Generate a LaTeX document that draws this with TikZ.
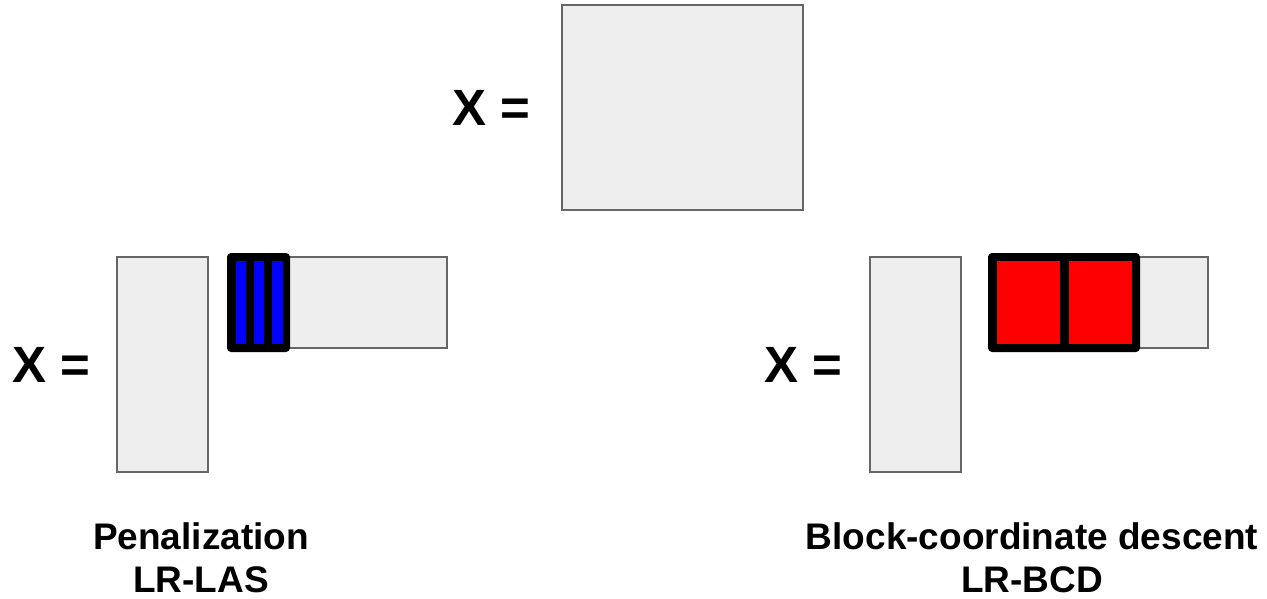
\documentclass[tikz,border=0pt]{standalone}
\usepackage{fontspec}
\setmainfont{Liberation Sans}
\definecolor{boxgray}{RGB}{238,238,238}
\definecolor{edgegray}{RGB}{102,102,102}
\definecolor{stripeblue}{RGB}{0,0,255}
\definecolor{blockred}{RGB}{255,0,0}
\tikzset{
  graybox/.style={fill=boxgray,draw=edgegray,line width=1.5pt},
  blackframe/.style={fill=black,rounded corners=4pt},
  bigeq/.style={anchor=base west,inner sep=0pt,font=\bfseries\fontsize{51}{60}\selectfont},
  caption/.style={anchor=base,inner sep=0pt,font=\bfseries\fontsize{37}{44}\selectfont}
}
\begin{document}
\begin{tikzpicture}[x=1pt,y=-1pt]
\useasboundingbox (0,0) rectangle (1267,598);
% top
\node[bigeq] (xtop) at (452,125) {X =};
\draw[graybox] (562,5) rectangle (803,210);
% left
\node[bigeq] (xleft) at (12,382) {X =};
\draw[graybox] (117,257) rectangle (208,472);
\draw[graybox] (288,257) rectangle (447,348);
\fill[blackframe] (227,253) rectangle (290,352);
\fill[stripeblue] (235.7,260.7) rectangle (246,344);
\fill[stripeblue] (254,260.7) rectangle (264.3,344);
\fill[stripeblue] (272.3,260.7) rectangle (283.3,344);
\node[caption] (pen) at (201,549) {Penalization};
\node[caption] (las) at (201,592) {LR-LAS};
% right
\node[bigeq] (xright) at (764,382) {X =};
\draw[graybox] (870,257) rectangle (961,472);
\draw[graybox] (1138,257) rectangle (1208,348);
\fill[blackframe] (988,253) rectangle (1140,352);
\fill[blockred] (996.7,260.7) rectangle (1060,344);
\fill[blockred] (1069.3,260.7) rectangle (1132.3,344);
\node[caption] (bcd) at (1032,549) {Block-coordinate descent};
\node[caption] (lrbcd) at (1032,592) {LR-BCD};
\end{tikzpicture}
\end{document}
